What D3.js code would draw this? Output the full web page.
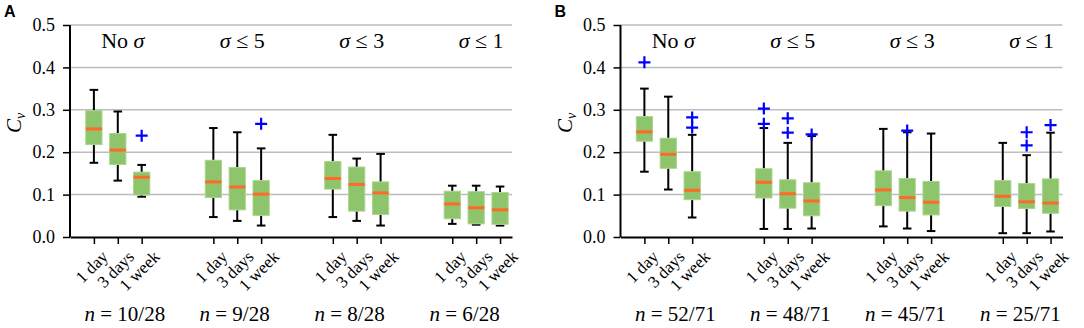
<!DOCTYPE html>
<html>
<head>
<meta charset="utf-8">
<script src="https://cdn.jsdelivr.net/npm/d3@7"></script>
<style>
  body { margin: 0; background: #fff; }
  svg { display: block; }
  text { font-family: "Liberation Serif", "Times New Roman", serif; fill: #000; }
</style>
</head>
<body>
<script>
// categories
const groupTitles = [["No ", "σ"], ["", "σ", " ≤ 5"], ["", "σ", " ≤ 3"], ["", "σ", " ≤ 1"]];
const periods = ["1 day", "3 days", "1 week"];
const yTicks = [0, 0.1, 0.2, 0.3, 0.4, 0.5];

// panel A: box stats, order = group x period
const nA = ["10/28", "9/28", "8/28", "6/28"];
const lowA = [0.175, 0.133, 0.095, 0.047, 0.038, 0.027, 0.047, 0.038, 0.027, 0.031, 0.029, 0.027];
const q1A  = [0.218, 0.171, 0.099, 0.093, 0.064, 0.051, 0.113, 0.061, 0.053, 0.043, 0.031, 0.030];
const medA = [0.255, 0.205, 0.141, 0.130, 0.118, 0.101, 0.138, 0.124, 0.104, 0.078, 0.069, 0.064];
const q3A  = [0.298, 0.244, 0.153, 0.181, 0.164, 0.133, 0.178, 0.165, 0.130, 0.108, 0.107, 0.105];
const highA = [0.347, 0.296, 0.170, 0.257, 0.247, 0.209, 0.241, 0.185, 0.196, 0.121, 0.121, 0.119];
const fliersA = [[], [], [0.239], [], [], [0.267], [], [], [], [], [], []];

// panel B
const nB = ["52/71", "48/71", "45/71", "25/71"];
const lowB = [0.154, 0.112, 0.046, 0.019, 0.019, 0.020, 0.025, 0.020, 0.014, 0.009, 0.009, 0.013];
const q1B  = [0.226, 0.162, 0.088, 0.092, 0.068, 0.050, 0.074, 0.061, 0.052, 0.072, 0.067, 0.056];
const medB = [0.248, 0.195, 0.110, 0.129, 0.102, 0.085, 0.111, 0.093, 0.082, 0.096, 0.083, 0.080];
const q3B  = [0.284, 0.233, 0.154, 0.161, 0.135, 0.128, 0.156, 0.138, 0.131, 0.133, 0.126, 0.137];
const highB = [0.350, 0.331, 0.241, 0.257, 0.222, 0.238, 0.255, 0.247, 0.244, 0.222, 0.193, 0.246];
const fliersB = [[0.412], [], [0.282, 0.258], [0.303, 0.267], [0.280, 0.246], [0.242], [], [0.251], [], [], [0.247, 0.216], [0.264]];

const W = 1084, H = 328;
const svg = d3.select("body").append("svg").attr("width", W).attr("height", H);

const boxFill = "#8ec46c", boxEdge = "#a9d78d", medColor = "#ff6a28", flierColor = "#0000ff";

function panel(opt) {
    const x = d3.scaleLinear().domain([0, 18.5]).range([opt.left, opt.left + 442]);
    const y = d3.scaleLinear().domain([0, 0.5]).range([237, 25]);
    const g = svg.append("g");

    // gridlines
    g.append("g").selectAll("line").data(yTicks.slice(1)).join("line")
        .attr("x1", x(0)).attr("x2", x(18.5))
        .attr("y1", d => y(d)).attr("y2", d => y(d))
        .attr("stroke", "#bdbdbd").attr("stroke-width", 1.5);

    // y axis
    const ya = g.append("g").attr("transform", `translate(${x(0)},0)`)
        .call(d3.axisLeft(y).tickValues(yTicks).tickFormat(d3.format(".1f")).tickSize(7).tickPadding(8));
    ya.select(".domain").attr("stroke-width", 2).attr("d", `M-0,${y(0.5)}V${y(0)}`);
    ya.selectAll(".tick line").attr("stroke-width", 1.5);
    ya.selectAll(".tick text").style("font-family", "Liberation Serif").style("font-size", "18px");

    // box positions
    const pos = d3.range(12).map(i => 1 + Math.floor(i / 3) * 5 + (i % 3));

    // x axis
    const xa = g.append("g").attr("transform", `translate(0,${y(0)})`)
        .call(d3.axisBottom(x).tickValues(pos).tickFormat("").tickSize(7).tickSizeOuter(0));
    xa.select(".domain").attr("stroke-width", 2);
    xa.selectAll(".tick line").attr("stroke-width", 1.5);

    // rotated tick labels
    const fs = 17;
    g.append("g").selectAll("text").data(pos).join("text")
        .style("font-size", fs + "px")
        .attr("text-anchor", "middle")
        .attr("dominant-baseline", "central")
        .text((d, i) => periods[i % 3])
        .each(function(d) {
            const w = this.getComputedTextLength();
            const cy = 249 + (w + 0.8 * fs) * 0.3536;
            const cx = x(d) - 2;
            d3.select(this).attr("transform", `translate(${cx},${cy}) rotate(-45)`);
        });

    const bw = 0.68, cw = 0.36;
    const boxes = g.append("g").selectAll("g").data(pos).join("g");
    // whiskers
    boxes.append("line")
        .attr("x1", d => x(d)).attr("x2", d => x(d))
        .attr("y1", (d, i) => y(opt.low[i])).attr("y2", (d, i) => y(opt.q1[i]))
        .attr("stroke", "#000").attr("stroke-width", 2);
    boxes.append("line")
        .attr("x1", d => x(d)).attr("x2", d => x(d))
        .attr("y1", (d, i) => y(opt.high[i])).attr("y2", (d, i) => y(opt.q3[i]))
        .attr("stroke", "#000").attr("stroke-width", 2);
    // caps
    ["low", "high"].forEach(k => {
        boxes.append("line")
            .attr("x1", d => x(d - cw / 2)).attr("x2", d => x(d + cw / 2))
            .attr("y1", (d, i) => y(opt[k][i])).attr("y2", (d, i) => y(opt[k][i]))
            .attr("stroke", "#000").attr("stroke-width", 2);
    });
    // box
    boxes.append("rect")
        .attr("x", d => x(d - bw / 2)).attr("width", x(bw) - x(0))
        .attr("y", (d, i) => y(opt.q3[i]))
        .attr("height", (d, i) => y(opt.q1[i]) - y(opt.q3[i]))
        .attr("fill", boxFill).attr("stroke", boxEdge).attr("stroke-width", 1);
    // median
    boxes.append("line")
        .attr("x1", d => x(d - bw / 2)).attr("x2", d => x(d + bw / 2))
        .attr("y1", (d, i) => y(opt.med[i])).attr("y2", (d, i) => y(opt.med[i]))
        .attr("stroke", medColor).attr("stroke-width", 3);
    // fliers
    boxes.each(function(d, i) {
        d3.select(this).selectAll("path").data(opt.fliers[i]).join("path")
            .attr("d", v => `M${x(d) - 6},${y(v)}h12M${x(d)},${y(v) - 6}v12`)
            .attr("stroke", flierColor).attr("stroke-width", 2.2).attr("fill", "none");
    });

    // group titles
    groupTitles.forEach((parts, gi) => {
        const t = g.append("text").attr("x", x(2 + gi * 5) + 5).attr("y", 48)
            .attr("text-anchor", "middle").style("font-size", "22px");
        parts.forEach(p => {
            if (!p) return;
            t.append("tspan").text(p).style("font-style", p === "σ" ? "italic" : "normal");
        });
    });

    // n labels
    opt.n.forEach((lab, gi) => {
        const t = g.append("text").attr("x", x(0) + 14.5 + gi * 115).attr("y", 321)
            .style("font-size", "21px");
        t.append("tspan").text("n").style("font-style", "italic");
        t.append("tspan").text(" = " + lab);
    });

    // y label
    const yl = g.append("text")
        .attr("transform", `translate(${x(0) - 49},${y(0.25) - 8}) rotate(-90)`)
        .attr("text-anchor", "middle").style("font-size", "21px").style("font-style", "italic");
    yl.append("tspan").text("C");
    yl.append("tspan").text("v").attr("dy", 4).style("font-size", "14px");

    // panel letter
    svg.append("text").attr("x", opt.left - 66).attr("y", 17)
        .style("font-family", "Liberation Sans, Arial, sans-serif")
        .style("font-weight", "bold").style("font-size", "16px").text(opt.letter);
}

panel({ left: 70, letter: "A", n: nA, low: lowA, q1: q1A, med: medA, q3: q3A, high: highA, fliers: fliersA });
panel({ left: 620.5, letter: "B", n: nB, low: lowB, q1: q1B, med: medB, q3: q3B, high: highB, fliers: fliersB });
</script>
</body>
</html>
